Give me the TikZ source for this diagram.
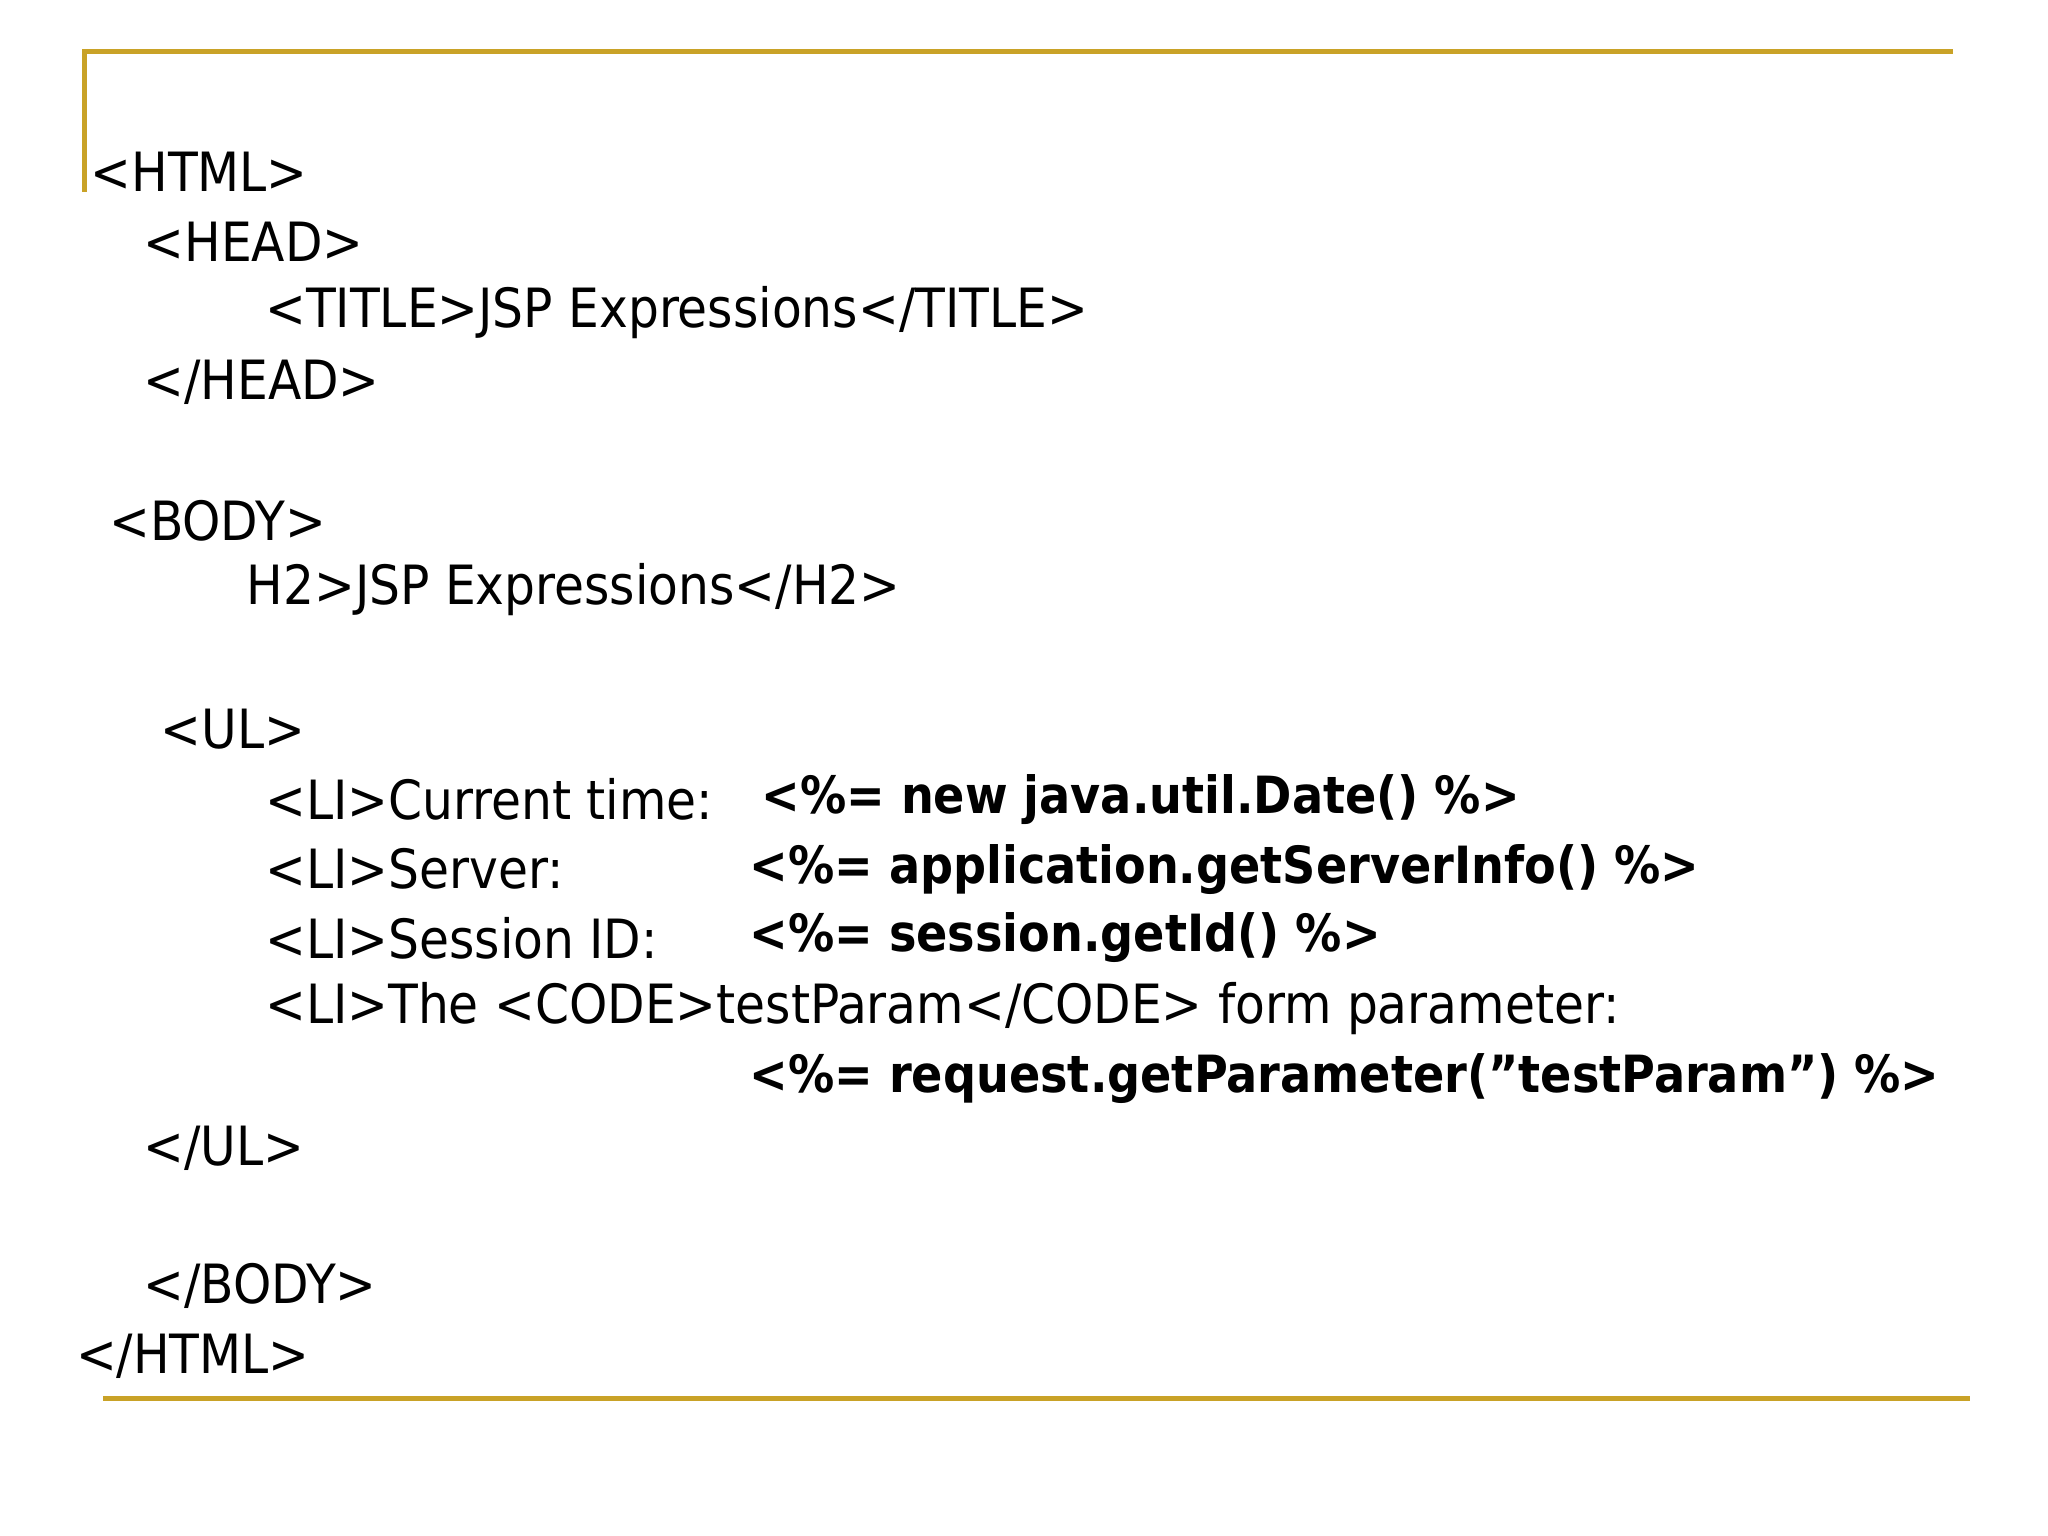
\documentclass[tikz,border=0pt]{standalone}
\usepackage{fontspec}
\setmainfont{DejaVu Sans Condensed}
\definecolor{gold}{HTML}{C9A227}
\newcommand{\bcode}[1]{{\fontsize{14.6}{16}\selectfont\bfseries #1}}
\begin{document}
\begin{tikzpicture}[x=0.013230cm,y=-0.013230cm,
  code/.style={anchor=west,inner sep=0pt,font=\fontsize{15.4}{17}\selectfont},
  rule/.style={draw=gold,line width=1.6pt}]
\useasboundingbox (0,0) rectangle (1548,1161);
\fill[white] (0,0) rectangle (1548,1161);
\coordinate (tl) at (64,145); \coordinate (tc) at (64,39); \coordinate (tr) at (1476,39);
\draw[rule] (tl) -- (tc) -- (tr);
\coordinate (bl) at (78,1057); \coordinate (br) at (1489,1057);
\draw[rule] (bl) -- (br);
\node[code] (l1) at (68,130) {<HTML>};
\node[code] (l2) at (108,183) {<HEAD>};
\node[code] (l3) at (200,236) {<TITLE>JSP Expressions</TITLE>};
\node[code] (l4) at (108,289) {</HEAD>};
\node[code] (l5) at (82,394) {<BODY>};
\node[code] (l6) at (186,446) {H2>JSP Expressions</H2>};
\node[code] (l7) at (121,551) {<UL>};
\node[code] (l8) at (200,604) {<LI>Current time:};
\node[code] (b8) at (575,604) {\bcode{<\%= new java.util.Date() \%>}};
\node[code] (l9) at (200,657) {<LI>Server:};
\node[code] (b9) at (566,657) {\bcode{<\%= application.getServerInfo() \%>}};
\node[code] (l10) at (200,709) {<LI>Session ID:};
\node[code] (b10) at (566,709) {\bcode{<\%= session.getId() \%>}};
\node[code] (l11) at (200,762) {<LI>The <CODE>testParam</CODE> form parameter:};
\node[code] (b11) at (566,815) {\bcode{<\%= request.getParameter(\char"22 testParam\char"22) \%>}};
\node[code] (l12) at (108,868) {</UL>};
\node[code] (l13) at (108,972) {</BODY>};
\node[code] (l14) at (57,1025) {</HTML>};
\end{tikzpicture}
\end{document}
